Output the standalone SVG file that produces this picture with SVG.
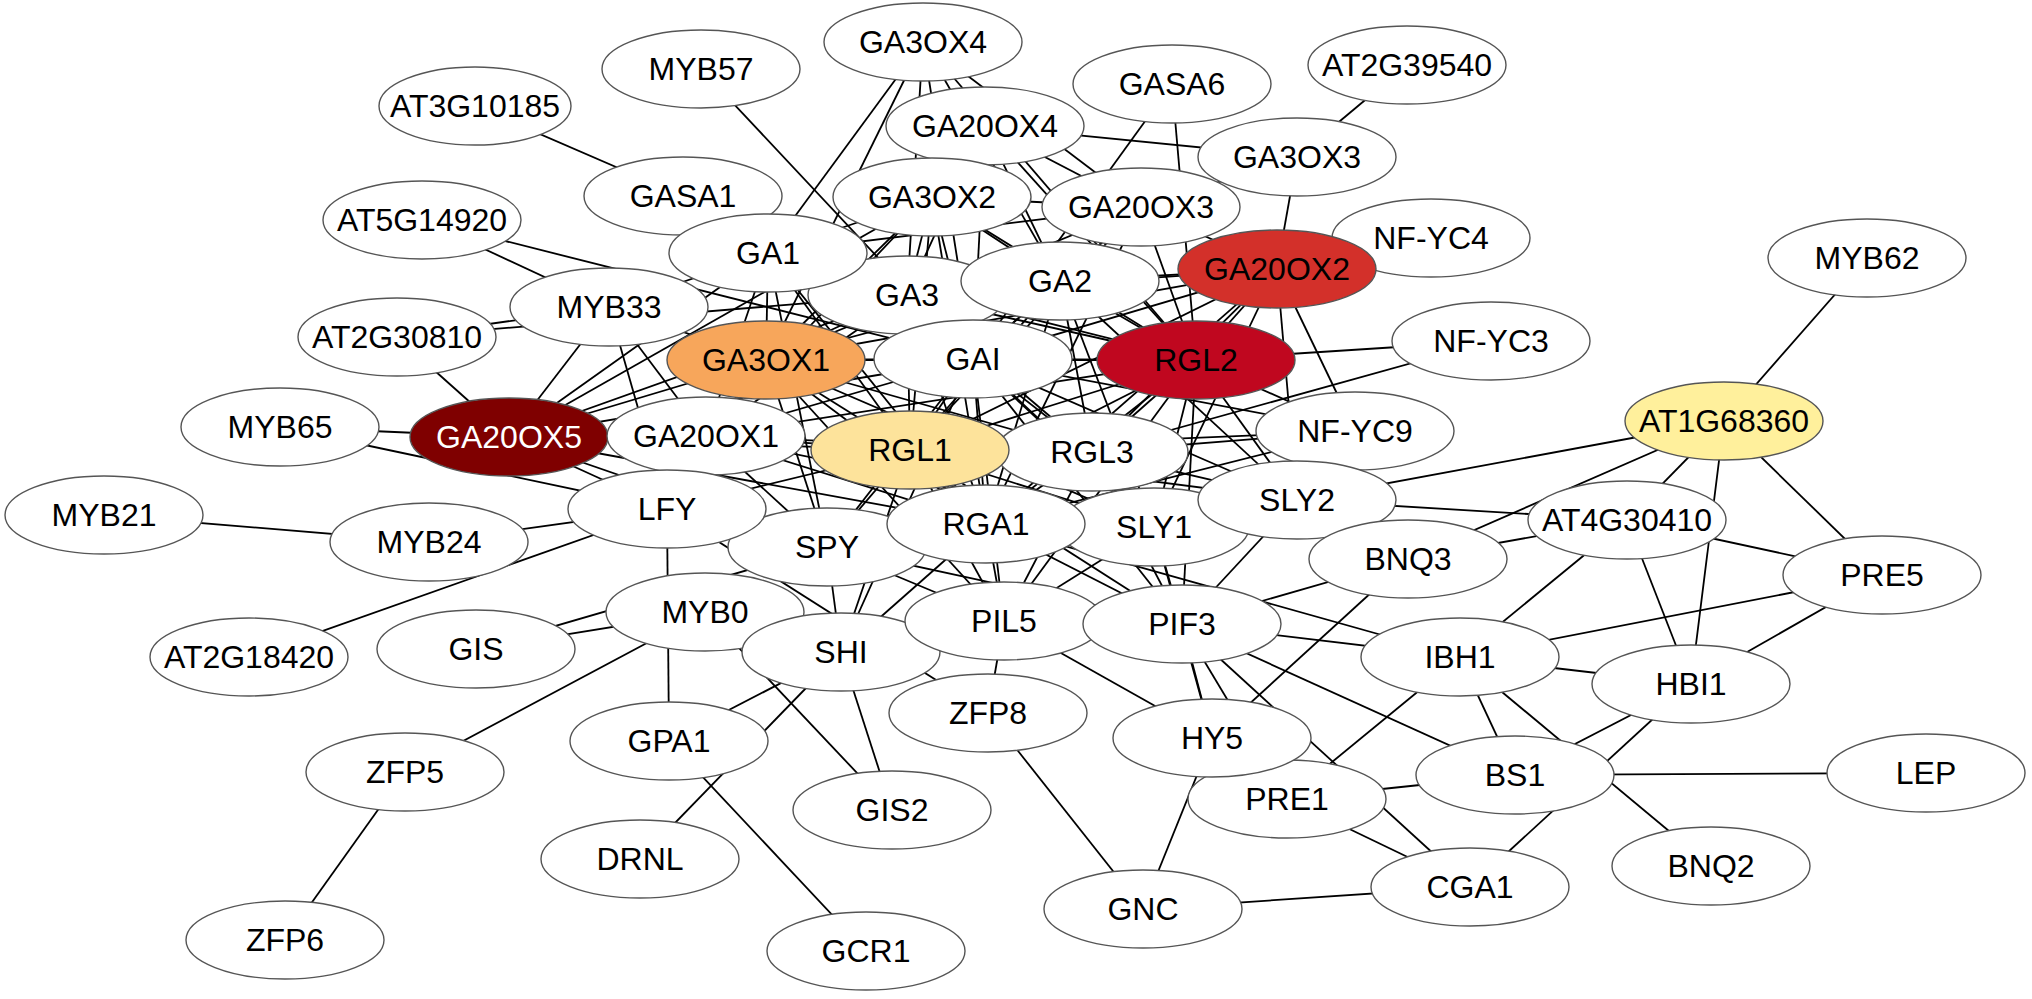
<svg xmlns="http://www.w3.org/2000/svg" width="2032" height="999" viewBox="0 0 2032 999">
<style>
.n ellipse{fill:#fff;stroke:#555;stroke-width:1.4}
.n text{font-family:"Liberation Sans",Arial,sans-serif;font-size:32px;text-anchor:middle;fill:#000}
#edges line{stroke:#000;stroke-width:1.8}
.c1 ellipse{fill:#7f0000}.c1 text{fill:#fff}
.c2 ellipse{fill:#d3302a}
.c3 ellipse{fill:#c0071f}
.c4 ellipse{fill:#f7a65b}
.c5 ellipse{fill:#fde39b}
.c6 ellipse{fill:#fff09c}
</style>
<rect width="2032" height="999" fill="#fff"/>
<g id="edges">
<line x1="475" y1="106" x2="683" y2="196"/>
<line x1="701" y1="69" x2="973" y2="359"/>
<line x1="923" y1="42" x2="768" y2="253"/>
<line x1="923" y1="42" x2="766" y2="360"/>
<line x1="1172" y1="84" x2="1196" y2="360"/>
<line x1="1172" y1="84" x2="973" y2="359"/>
<line x1="985" y1="126" x2="1297" y2="157"/>
<line x1="1407" y1="65" x2="1297" y2="157"/>
<line x1="1297" y1="157" x2="1277" y2="269"/>
<line x1="1297" y1="157" x2="1141" y2="207"/>
<line x1="1431" y1="238" x2="1277" y2="269"/>
<line x1="1491" y1="341" x2="1196" y2="360"/>
<line x1="1491" y1="341" x2="1092" y2="452"/>
<line x1="1724" y1="421" x2="1867" y2="258"/>
<line x1="1724" y1="421" x2="1297" y2="500"/>
<line x1="1724" y1="421" x2="1408" y2="559"/>
<line x1="1724" y1="421" x2="1627" y2="520"/>
<line x1="1724" y1="421" x2="1691" y2="684"/>
<line x1="1724" y1="421" x2="1882" y2="575"/>
<line x1="1297" y1="500" x2="1627" y2="520"/>
<line x1="1408" y1="559" x2="1627" y2="520"/>
<line x1="1627" y1="520" x2="1460" y2="657"/>
<line x1="1627" y1="520" x2="1691" y2="684"/>
<line x1="1627" y1="520" x2="1882" y2="575"/>
<line x1="1882" y1="575" x2="1460" y2="657"/>
<line x1="1882" y1="575" x2="1691" y2="684"/>
<line x1="1460" y1="657" x2="1691" y2="684"/>
<line x1="986" y1="524" x2="1460" y2="657"/>
<line x1="1182" y1="624" x2="1460" y2="657"/>
<line x1="1408" y1="559" x2="1182" y2="624"/>
<line x1="1408" y1="559" x2="1212" y2="738"/>
<line x1="1212" y1="738" x2="1143" y2="909"/>
<line x1="1182" y1="624" x2="1212" y2="738"/>
<line x1="1154" y1="527" x2="1212" y2="738"/>
<line x1="1182" y1="624" x2="1287" y2="799"/>
<line x1="1182" y1="624" x2="1470" y2="887"/>
<line x1="1182" y1="624" x2="1515" y2="775"/>
<line x1="1004" y1="621" x2="1212" y2="738"/>
<line x1="988" y1="713" x2="1143" y2="909"/>
<line x1="1143" y1="909" x2="1470" y2="887"/>
<line x1="1460" y1="657" x2="1515" y2="775"/>
<line x1="1460" y1="657" x2="1711" y2="866"/>
<line x1="1691" y1="684" x2="1515" y2="775"/>
<line x1="1691" y1="684" x2="1470" y2="887"/>
<line x1="1515" y1="775" x2="1926" y2="773"/>
<line x1="1515" y1="775" x2="1287" y2="799"/>
<line x1="1460" y1="657" x2="1287" y2="799"/>
<line x1="1287" y1="799" x2="1470" y2="887"/>
<line x1="422" y1="220" x2="609" y2="307"/>
<line x1="422" y1="220" x2="973" y2="359"/>
<line x1="397" y1="337" x2="609" y2="307"/>
<line x1="397" y1="337" x2="907" y2="295"/>
<line x1="397" y1="337" x2="509" y2="437"/>
<line x1="280" y1="427" x2="509" y2="437"/>
<line x1="280" y1="427" x2="667" y2="509"/>
<line x1="104" y1="515" x2="429" y2="542"/>
<line x1="429" y1="542" x2="667" y2="509"/>
<line x1="249" y1="657" x2="667" y2="509"/>
<line x1="509" y1="437" x2="609" y2="307"/>
<line x1="609" y1="307" x2="706" y2="436"/>
<line x1="609" y1="307" x2="667" y2="509"/>
<line x1="667" y1="509" x2="669" y2="741"/>
<line x1="667" y1="509" x2="988" y2="713"/>
<line x1="476" y1="649" x2="705" y2="612"/>
<line x1="476" y1="649" x2="827" y2="547"/>
<line x1="705" y1="612" x2="405" y2="772"/>
<line x1="841" y1="652" x2="669" y2="741"/>
<line x1="841" y1="652" x2="640" y2="859"/>
<line x1="705" y1="612" x2="892" y2="810"/>
<line x1="841" y1="652" x2="892" y2="810"/>
<line x1="669" y1="741" x2="866" y2="951"/>
<line x1="405" y1="772" x2="285" y2="940"/>
<line x1="841" y1="652" x2="827" y2="547"/>
<line x1="1004" y1="621" x2="988" y2="713"/>
<line x1="841" y1="652" x2="986" y2="524"/>
<line x1="841" y1="652" x2="910" y2="450"/>
<line x1="841" y1="652" x2="973" y2="359"/>
<line x1="768" y1="253" x2="766" y2="360"/>
<line x1="768" y1="253" x2="973" y2="359"/>
<line x1="768" y1="253" x2="706" y2="436"/>
<line x1="768" y1="253" x2="910" y2="450"/>
<line x1="768" y1="253" x2="609" y2="307"/>
<line x1="768" y1="253" x2="1060" y2="281"/>
<line x1="768" y1="253" x2="986" y2="524"/>
<line x1="768" y1="253" x2="1196" y2="360"/>
<line x1="768" y1="253" x2="509" y2="437"/>
<line x1="768" y1="253" x2="827" y2="547"/>
<line x1="768" y1="253" x2="932" y2="197"/>
<line x1="768" y1="253" x2="1141" y2="207"/>
<line x1="907" y1="295" x2="973" y2="359"/>
<line x1="907" y1="295" x2="766" y2="360"/>
<line x1="907" y1="295" x2="910" y2="450"/>
<line x1="907" y1="295" x2="1196" y2="360"/>
<line x1="907" y1="295" x2="1092" y2="452"/>
<line x1="907" y1="295" x2="986" y2="524"/>
<line x1="907" y1="295" x2="706" y2="436"/>
<line x1="907" y1="295" x2="509" y2="437"/>
<line x1="907" y1="295" x2="1154" y2="527"/>
<line x1="907" y1="295" x2="1060" y2="281"/>
<line x1="907" y1="295" x2="932" y2="197"/>
<line x1="907" y1="295" x2="1277" y2="269"/>
<line x1="907" y1="295" x2="985" y2="126"/>
<line x1="907" y1="295" x2="923" y2="42"/>
<line x1="1060" y1="281" x2="973" y2="359"/>
<line x1="1060" y1="281" x2="1196" y2="360"/>
<line x1="1060" y1="281" x2="910" y2="450"/>
<line x1="1060" y1="281" x2="1092" y2="452"/>
<line x1="1060" y1="281" x2="986" y2="524"/>
<line x1="1060" y1="281" x2="766" y2="360"/>
<line x1="1060" y1="281" x2="1154" y2="527"/>
<line x1="1060" y1="281" x2="1297" y2="500"/>
<line x1="1060" y1="281" x2="932" y2="197"/>
<line x1="1060" y1="281" x2="1141" y2="207"/>
<line x1="1060" y1="281" x2="1277" y2="269"/>
<line x1="1060" y1="281" x2="985" y2="126"/>
<line x1="1060" y1="281" x2="923" y2="42"/>
<line x1="932" y1="197" x2="973" y2="359"/>
<line x1="932" y1="197" x2="766" y2="360"/>
<line x1="932" y1="197" x2="706" y2="436"/>
<line x1="932" y1="197" x2="910" y2="450"/>
<line x1="932" y1="197" x2="986" y2="524"/>
<line x1="932" y1="197" x2="1196" y2="360"/>
<line x1="932" y1="197" x2="1141" y2="207"/>
<line x1="932" y1="197" x2="509" y2="437"/>
<line x1="1141" y1="207" x2="973" y2="359"/>
<line x1="1141" y1="207" x2="1196" y2="360"/>
<line x1="1141" y1="207" x2="1277" y2="269"/>
<line x1="1141" y1="207" x2="910" y2="450"/>
<line x1="1141" y1="207" x2="986" y2="524"/>
<line x1="1141" y1="207" x2="766" y2="360"/>
<line x1="985" y1="126" x2="1141" y2="207"/>
<line x1="985" y1="126" x2="973" y2="359"/>
<line x1="985" y1="126" x2="1196" y2="360"/>
<line x1="923" y1="42" x2="973" y2="359"/>
<line x1="923" y1="42" x2="1141" y2="207"/>
<line x1="923" y1="42" x2="1196" y2="360"/>
<line x1="1277" y1="269" x2="1196" y2="360"/>
<line x1="1277" y1="269" x2="973" y2="359"/>
<line x1="1277" y1="269" x2="1092" y2="452"/>
<line x1="1277" y1="269" x2="910" y2="450"/>
<line x1="1277" y1="269" x2="1154" y2="527"/>
<line x1="1277" y1="269" x2="986" y2="524"/>
<line x1="1277" y1="269" x2="766" y2="360"/>
<line x1="1277" y1="269" x2="1297" y2="500"/>
<line x1="1277" y1="269" x2="1355" y2="431"/>
<line x1="766" y1="360" x2="973" y2="359"/>
<line x1="766" y1="360" x2="910" y2="450"/>
<line x1="766" y1="360" x2="1196" y2="360"/>
<line x1="766" y1="360" x2="1092" y2="452"/>
<line x1="766" y1="360" x2="986" y2="524"/>
<line x1="766" y1="360" x2="706" y2="436"/>
<line x1="766" y1="360" x2="509" y2="437"/>
<line x1="766" y1="360" x2="827" y2="547"/>
<line x1="766" y1="360" x2="1154" y2="527"/>
<line x1="766" y1="360" x2="609" y2="307"/>
<line x1="766" y1="360" x2="667" y2="509"/>
<line x1="766" y1="360" x2="1004" y2="621"/>
<line x1="973" y1="359" x2="910" y2="450"/>
<line x1="973" y1="359" x2="1196" y2="360"/>
<line x1="973" y1="359" x2="1092" y2="452"/>
<line x1="973" y1="359" x2="986" y2="524"/>
<line x1="973" y1="359" x2="1154" y2="527"/>
<line x1="973" y1="359" x2="1297" y2="500"/>
<line x1="973" y1="359" x2="827" y2="547"/>
<line x1="973" y1="359" x2="1004" y2="621"/>
<line x1="973" y1="359" x2="1182" y2="624"/>
<line x1="973" y1="359" x2="706" y2="436"/>
<line x1="973" y1="359" x2="509" y2="437"/>
<line x1="973" y1="359" x2="1355" y2="431"/>
<line x1="1196" y1="360" x2="910" y2="450"/>
<line x1="1196" y1="360" x2="1092" y2="452"/>
<line x1="1196" y1="360" x2="986" y2="524"/>
<line x1="1196" y1="360" x2="1154" y2="527"/>
<line x1="1196" y1="360" x2="1297" y2="500"/>
<line x1="1196" y1="360" x2="1355" y2="431"/>
<line x1="1196" y1="360" x2="1182" y2="624"/>
<line x1="1196" y1="360" x2="1004" y2="621"/>
<line x1="1196" y1="360" x2="827" y2="547"/>
<line x1="1196" y1="360" x2="706" y2="436"/>
<line x1="706" y1="436" x2="910" y2="450"/>
<line x1="706" y1="436" x2="986" y2="524"/>
<line x1="706" y1="436" x2="827" y2="547"/>
<line x1="706" y1="436" x2="1092" y2="452"/>
<line x1="706" y1="436" x2="1154" y2="527"/>
<line x1="706" y1="436" x2="667" y2="509"/>
<line x1="509" y1="437" x2="910" y2="450"/>
<line x1="509" y1="437" x2="667" y2="509"/>
<line x1="509" y1="437" x2="827" y2="547"/>
<line x1="509" y1="437" x2="986" y2="524"/>
<line x1="910" y1="450" x2="1092" y2="452"/>
<line x1="910" y1="450" x2="986" y2="524"/>
<line x1="910" y1="450" x2="1154" y2="527"/>
<line x1="910" y1="450" x2="827" y2="547"/>
<line x1="910" y1="450" x2="1004" y2="621"/>
<line x1="910" y1="450" x2="1182" y2="624"/>
<line x1="910" y1="450" x2="667" y2="509"/>
<line x1="910" y1="450" x2="1297" y2="500"/>
<line x1="910" y1="450" x2="1355" y2="431"/>
<line x1="1092" y1="452" x2="986" y2="524"/>
<line x1="1092" y1="452" x2="1154" y2="527"/>
<line x1="1092" y1="452" x2="1297" y2="500"/>
<line x1="1092" y1="452" x2="1182" y2="624"/>
<line x1="1092" y1="452" x2="1004" y2="621"/>
<line x1="1092" y1="452" x2="1355" y2="431"/>
<line x1="986" y1="524" x2="1154" y2="527"/>
<line x1="986" y1="524" x2="827" y2="547"/>
<line x1="986" y1="524" x2="1004" y2="621"/>
<line x1="986" y1="524" x2="1182" y2="624"/>
<line x1="986" y1="524" x2="1297" y2="500"/>
<line x1="986" y1="524" x2="1355" y2="431"/>
<line x1="1154" y1="527" x2="1297" y2="500"/>
<line x1="1154" y1="527" x2="1182" y2="624"/>
<line x1="1154" y1="527" x2="1004" y2="621"/>
<line x1="1297" y1="500" x2="1182" y2="624"/>
<line x1="1297" y1="500" x2="1355" y2="431"/>
<line x1="827" y1="547" x2="1004" y2="621"/>
<line x1="827" y1="547" x2="1182" y2="624"/>
<line x1="1004" y1="621" x2="1182" y2="624"/>
</g>
<g id="nodes">
<g id="n-GA3" class="n"><ellipse cx="907" cy="295" rx="99" ry="39"/><text x="907" y="306">GA3</text></g>
<g id="n-GASA1" class="n"><ellipse cx="683" cy="196" rx="99" ry="39"/><text x="683" y="207">GASA1</text></g>
<g id="n-GA1" class="n"><ellipse cx="768" cy="253" rx="99" ry="39"/><text x="768" y="264">GA1</text></g>
<g id="n-GA20OX4" class="n"><ellipse cx="985" cy="126" rx="99" ry="39"/><text x="985" y="137">GA20OX4</text></g>
<g id="n-GA3OX2" class="n"><ellipse cx="932" cy="197" rx="99" ry="39"/><text x="932" y="208">GA3OX2</text></g>
<g id="n-GA3OX4" class="n"><ellipse cx="923" cy="42" rx="99" ry="39"/><text x="923" y="53">GA3OX4</text></g>
<g id="n-MYB57" class="n"><ellipse cx="701" cy="69" rx="99" ry="39"/><text x="701" y="80">MYB57</text></g>
<g id="n-AT3G10185" class="n"><ellipse cx="475" cy="106" rx="96" ry="39"/><text x="475" y="117">AT3G10185</text></g>
<g id="n-GASA6" class="n"><ellipse cx="1172" cy="84" rx="99" ry="39"/><text x="1172" y="95">GASA6</text></g>
<g id="n-AT2G39540" class="n"><ellipse cx="1407" cy="65" rx="99" ry="39"/><text x="1407" y="76">AT2G39540</text></g>
<g id="n-GA20OX3" class="n"><ellipse cx="1141" cy="207" rx="99" ry="39"/><text x="1141" y="218">GA20OX3</text></g>
<g id="n-GA3OX3" class="n"><ellipse cx="1297" cy="157" rx="99" ry="39"/><text x="1297" y="168">GA3OX3</text></g>
<g id="n-AT5G14920" class="n"><ellipse cx="422" cy="220" rx="99" ry="39"/><text x="422" y="231">AT5G14920</text></g>
<g id="n-NF-YC4" class="n"><ellipse cx="1431" cy="238" rx="99" ry="39"/><text x="1431" y="249">NF-YC4</text></g>
<g id="n-GA2" class="n"><ellipse cx="1060" cy="281" rx="99" ry="39"/><text x="1060" y="292">GA2</text></g>
<g id="n-GA20OX2" class="n c2"><ellipse cx="1277" cy="269" rx="99" ry="39"/><text x="1277" y="280">GA20OX2</text></g>
<g id="n-MYB62" class="n"><ellipse cx="1867" cy="258" rx="99" ry="39"/><text x="1867" y="269">MYB62</text></g>
<g id="n-MYB33" class="n"><ellipse cx="609" cy="307" rx="99" ry="39"/><text x="609" y="318">MYB33</text></g>
<g id="n-AT2G30810" class="n"><ellipse cx="397" cy="337" rx="99" ry="39"/><text x="397" y="348">AT2G30810</text></g>
<g id="n-GA3OX1" class="n c4"><ellipse cx="766" cy="360" rx="99" ry="39"/><text x="766" y="371">GA3OX1</text></g>
<g id="n-GAI" class="n"><ellipse cx="973" cy="359" rx="99" ry="39"/><text x="973" y="370">GAI</text></g>
<g id="n-RGL2" class="n c3"><ellipse cx="1196" cy="360" rx="99" ry="39"/><text x="1196" y="371">RGL2</text></g>
<g id="n-NF-YC3" class="n"><ellipse cx="1491" cy="341" rx="99" ry="39"/><text x="1491" y="352">NF-YC3</text></g>
<g id="n-MYB65" class="n"><ellipse cx="280" cy="427" rx="99" ry="39"/><text x="280" y="438">MYB65</text></g>
<g id="n-GA20OX5" class="n c1"><ellipse cx="509" cy="437" rx="99" ry="39"/><text x="509" y="448">GA20OX5</text></g>
<g id="n-GA20OX1" class="n"><ellipse cx="706" cy="436" rx="99" ry="39"/><text x="706" y="447">GA20OX1</text></g>
<g id="n-RGL3" class="n"><ellipse cx="1092" cy="452" rx="96" ry="39"/><text x="1092" y="463">RGL3</text></g>
<g id="n-RGL1" class="n c5"><ellipse cx="910" cy="450" rx="99" ry="39"/><text x="910" y="461">RGL1</text></g>
<g id="n-NF-YC9" class="n"><ellipse cx="1355" cy="431" rx="99" ry="39"/><text x="1355" y="442">NF-YC9</text></g>
<g id="n-AT1G68360" class="n c6"><ellipse cx="1724" cy="421" rx="99" ry="39"/><text x="1724" y="432">AT1G68360</text></g>
<g id="n-SPY" class="n"><ellipse cx="827" cy="547" rx="99" ry="39"/><text x="827" y="558">SPY</text></g>
<g id="n-LFY" class="n"><ellipse cx="667" cy="509" rx="99" ry="39"/><text x="667" y="520">LFY</text></g>
<g id="n-MYB21" class="n"><ellipse cx="104" cy="515" rx="99" ry="39"/><text x="104" y="526">MYB21</text></g>
<g id="n-MYB24" class="n"><ellipse cx="429" cy="542" rx="99" ry="39"/><text x="429" y="553">MYB24</text></g>
<g id="n-SLY1" class="n"><ellipse cx="1154" cy="527" rx="95" ry="39"/><text x="1154" y="538">SLY1</text></g>
<g id="n-RGA1" class="n"><ellipse cx="986" cy="524" rx="99" ry="39"/><text x="986" y="535">RGA1</text></g>
<g id="n-SLY2" class="n"><ellipse cx="1297" cy="500" rx="99" ry="39"/><text x="1297" y="511">SLY2</text></g>
<g id="n-AT4G30410" class="n"><ellipse cx="1627" cy="520" rx="99" ry="39"/><text x="1627" y="531">AT4G30410</text></g>
<g id="n-BNQ3" class="n"><ellipse cx="1408" cy="559" rx="99" ry="39"/><text x="1408" y="570">BNQ3</text></g>
<g id="n-PRE5" class="n"><ellipse cx="1882" cy="575" rx="99" ry="39"/><text x="1882" y="586">PRE5</text></g>
<g id="n-MYB0" class="n"><ellipse cx="705" cy="612" rx="99" ry="39"/><text x="705" y="623">MYB0</text></g>
<g id="n-GIS" class="n"><ellipse cx="476" cy="649" rx="99" ry="39"/><text x="476" y="660">GIS</text></g>
<g id="n-AT2G18420" class="n"><ellipse cx="249" cy="657" rx="99" ry="39"/><text x="249" y="668">AT2G18420</text></g>
<g id="n-SHI" class="n"><ellipse cx="841" cy="652" rx="99" ry="39"/><text x="841" y="663">SHI</text></g>
<g id="n-PIL5" class="n"><ellipse cx="1004" cy="621" rx="99" ry="39"/><text x="1004" y="632">PIL5</text></g>
<g id="n-PIF3" class="n"><ellipse cx="1182" cy="624" rx="99" ry="39"/><text x="1182" y="635">PIF3</text></g>
<g id="n-IBH1" class="n"><ellipse cx="1460" cy="657" rx="99" ry="39"/><text x="1460" y="668">IBH1</text></g>
<g id="n-HBI1" class="n"><ellipse cx="1691" cy="684" rx="99" ry="39"/><text x="1691" y="695">HBI1</text></g>
<g id="n-ZFP8" class="n"><ellipse cx="988" cy="713" rx="99" ry="39"/><text x="988" y="724">ZFP8</text></g>
<g id="n-GPA1" class="n"><ellipse cx="669" cy="741" rx="99" ry="39"/><text x="669" y="752">GPA1</text></g>
<g id="n-ZFP5" class="n"><ellipse cx="405" cy="772" rx="99" ry="39"/><text x="405" y="783">ZFP5</text></g>
<g id="n-PRE1" class="n"><ellipse cx="1287" cy="799" rx="99" ry="39"/><text x="1287" y="810">PRE1</text></g>
<g id="n-HY5" class="n"><ellipse cx="1212" cy="738" rx="99" ry="39"/><text x="1212" y="749">HY5</text></g>
<g id="n-BS1" class="n"><ellipse cx="1515" cy="775" rx="99" ry="39"/><text x="1515" y="786">BS1</text></g>
<g id="n-LEP" class="n"><ellipse cx="1926" cy="773" rx="99" ry="39"/><text x="1926" y="784">LEP</text></g>
<g id="n-GIS2" class="n"><ellipse cx="892" cy="810" rx="99" ry="39"/><text x="892" y="821">GIS2</text></g>
<g id="n-DRNL" class="n"><ellipse cx="640" cy="859" rx="99" ry="39"/><text x="640" y="870">DRNL</text></g>
<g id="n-BNQ2" class="n"><ellipse cx="1711" cy="866" rx="99" ry="39"/><text x="1711" y="877">BNQ2</text></g>
<g id="n-GNC" class="n"><ellipse cx="1143" cy="909" rx="99" ry="39"/><text x="1143" y="920">GNC</text></g>
<g id="n-CGA1" class="n"><ellipse cx="1470" cy="887" rx="99" ry="39"/><text x="1470" y="898">CGA1</text></g>
<g id="n-ZFP6" class="n"><ellipse cx="285" cy="940" rx="99" ry="39"/><text x="285" y="951">ZFP6</text></g>
<g id="n-GCR1" class="n"><ellipse cx="866" cy="951" rx="99" ry="39"/><text x="866" y="962">GCR1</text></g>
</g>
</svg>
